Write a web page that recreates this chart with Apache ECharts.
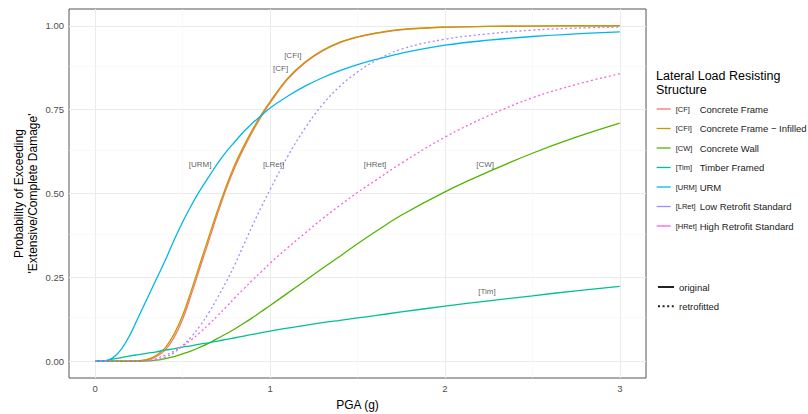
<!DOCTYPE html>
<html>
<head>
<meta charset="utf-8">
<script src="https://cdn.jsdelivr.net/npm/echarts@6/dist/echarts.min.js"></script>
<style>
  html, body { margin: 0; padding: 0; background: #fff; }
  #chart { width: 808px; height: 414px; }
</style>
</head>
<body>
<div id="chart"></div>
<script>
// PGA (g) sample points, shared by every curve
const pga = [0, 0.05, 0.1, 0.15, 0.2, 0.25, 0.3, 0.35, 0.4, 0.45, 0.5, 0.55, 0.6, 0.65, 0.7, 0.75, 0.8, 0.85, 0.9, 0.95, 1.0, 1.1, 1.2, 1.3, 1.4, 1.5, 1.6, 1.75, 2.0, 2.25, 2.5, 2.75, 3.0];

// probability of exceeding
const cf   = [0, 0, 0, 0, 0, 0.001, 0.004, 0.014, 0.033, 0.07, 0.125, 0.2, 0.28, 0.36, 0.44, 0.515, 0.58, 0.635, 0.685, 0.73, 0.77, 0.84, 0.89, 0.925, 0.95, 0.966, 0.977, 0.988, 0.996, 0.998, 0.999, 1, 1];
const cfi  = [0, 0, 0, 0, 0, 0.002, 0.006, 0.018, 0.04, 0.08, 0.137, 0.212, 0.292, 0.372, 0.45, 0.523, 0.588, 0.642, 0.691, 0.735, 0.774, 0.843, 0.892, 0.927, 0.951, 0.967, 0.978, 0.989, 0.996, 0.998, 0.999, 1, 1];
const cw   = [0, 0, 0, 0, 0, 0, 0.001, 0.003, 0.008, 0.014, 0.022, 0.031, 0.042, 0.054, 0.068, 0.082, 0.097, 0.113, 0.13, 0.148, 0.166, 0.203, 0.24, 0.277, 0.313, 0.35, 0.385, 0.435, 0.505, 0.565, 0.62, 0.668, 0.71];
const tim  = [0, 0.001, 0.006, 0.011, 0.016, 0.02, 0.024, 0.028, 0.033, 0.037, 0.042, 0.046, 0.051, 0.055, 0.06, 0.065, 0.07, 0.075, 0.08, 0.085, 0.09, 0.099, 0.107, 0.115, 0.122, 0.129, 0.136, 0.147, 0.164, 0.18, 0.195, 0.21, 0.223];
const urm  = [0, 0, 0.01, 0.036, 0.08, 0.135, 0.19, 0.245, 0.3, 0.36, 0.415, 0.465, 0.51, 0.55, 0.59, 0.625, 0.655, 0.685, 0.71, 0.733, 0.755, 0.79, 0.82, 0.845, 0.866, 0.884, 0.899, 0.918, 0.942, 0.957, 0.968, 0.976, 0.982];
const lret = [0, 0, 0, 0, 0, 0, 0.001, 0.004, 0.012, 0.025, 0.047, 0.073, 0.106, 0.145, 0.19, 0.238, 0.29, 0.348, 0.405, 0.46, 0.512, 0.61, 0.695, 0.765, 0.82, 0.862, 0.895, 0.93, 0.96, 0.976, 0.987, 0.993, 0.996];
const hret = [0, 0, 0, 0, 0, 0, 0.002, 0.008, 0.018, 0.03, 0.045, 0.064, 0.086, 0.11, 0.136, 0.162, 0.19, 0.216, 0.242, 0.267, 0.292, 0.338, 0.382, 0.425, 0.465, 0.503, 0.538, 0.59, 0.668, 0.732, 0.785, 0.825, 0.857];

const codes = ['[CF]', '[CFI]', '[CW]', '[Tim]', '[URM]', '[LRet]', '[HRet]'];
const names = ['Concrete Frame', 'Concrete Frame \u2212 Infilled', 'Concrete Wall', 'Timber Framed', 'URM', 'Low Retrofit Standard', 'High Retrofit Standard'];
const values = [cf, cfi, cw, tim, urm, lret, hret];
const retrofitted = [false, false, false, false, false, true, true];
const colors = ['#F8766D', '#C49A00', '#53B400', '#00C094', '#00B6EB', '#A58AFF', '#FB61D7'];

// direct labels on the curves: [text, pga, probability]
const curveLabels = [
  ['[URM]', 0.60, 0.586], ['[LRet]', 1.02, 0.586], ['[HRet]', 1.60, 0.586], ['[CW]', 2.23, 0.586],
  ['[CF]', 1.06, 0.872], ['[CFI]', 1.13, 0.91], ['[Tim]', 2.24, 0.207]
];

const xTicks = [0, 1, 2, 3];
const xMinor = [0.5, 1.5, 2.5];
const yTicks = [0, 0.25, 0.5, 0.75, 1];
const yMinor = [0.125, 0.375, 0.625, 0.875];

const FONT = 'Liberation Sans, Arial, sans-serif';
let myChart = echarts.init(document.getElementById('chart'), null, { renderer: 'svg' });

let series = [];
// panel grid lines (kept underneath the curves)
series.push({
  type: 'line', data: [], silent: true, z: 1,
  markLine: {
    z: 1, silent: true, symbol: 'none', label: { show: false }, animation: false,
    lineStyle: { color: '#ebebeb', width: 1, type: 'solid' },
    data: xTicks.map(v => ({ xAxis: v })).concat(yTicks.map(v => ({ yAxis: v })))
  }
});
series.push({
  type: 'line', data: [], silent: true, z: 1,
  markLine: {
    z: 1, silent: true, symbol: 'none', label: { show: false }, animation: false,
    lineStyle: { color: '#f5f5f5', width: 0.6, type: 'solid' },
    data: xMinor.map(v => ({ xAxis: v })).concat(yMinor.map(v => ({ yAxis: v })))
  }
});
names.forEach((n, i) => {
  series.push({
    name: n,
    type: 'line',
    z: 3,
    smooth: 0.4,
    symbol: 'none',
    color: colors[i],
    lineStyle: { width: 1.3, color: colors[i], type: retrofitted[i] ? [2, 2.6] : 'solid' },
    data: pga.map((x, k) => [x, values[i][k]])
  });
});
// line-type key
series.push({ name: 'original', type: 'line', data: [], symbol: 'none', color: '#222', lineStyle: { width: 1.3, color: '#222', type: 'solid' } });
series.push({ name: 'retrofitted', type: 'line', data: [], symbol: 'none', color: '#222', lineStyle: { width: 1.3, color: '#222', type: [2, 2.6] } });
// curve labels
series.push({
  type: 'scatter', z: 5, silent: true, symbolSize: 0, color: '#333',
  data: curveLabels.map(d => [d[1], d[2], d[0]]),
  label: { show: true, position: 'inside', formatter: p => p.value[2], fontSize: 8, color: '#333', textBorderWidth: 0, textBorderColor: 'transparent', fontFamily: FONT }
});

const hideSymbol = { opacity: 0, color: 'transparent', borderWidth: 0 };

let option = {
  animation: false,
  title: {
    text: 'Lateral Load Resisting\nStructure',
    left: 651, top: 64,
    textStyle: { fontSize: 12.5, fontWeight: 'normal', color: '#000', fontFamily: FONT, lineHeight: 14 }
  },
  grid: { left: 69, top: 9, right: 162, bottom: 36, outerBoundsMode: 'none', containLabel: false, show: true, borderColor: '#555', borderWidth: 1, backgroundColor: '#fff' },
  legend: [
    {
      data: names, orient: 'vertical', left: 651, top: 99,
      itemWidth: 14, itemHeight: 12, itemGap: 9.5,
      lineStyle: { type: 'solid', width: 1.3 },
      itemStyle: hideSymbol,
      selectedMode: false,
      formatter: name => '{a|' + codes[names.indexOf(name)] + '}{b|' + name + '}',
      textStyle: {
        fontFamily: FONT, color: '#1a1a1a',
        rich: {
          a: { fontSize: 7.5, width: 24, color: '#1a1a1a', fontFamily: FONT, lineHeight: 12 },
          b: { fontSize: 9.5, color: '#1a1a1a', fontFamily: FONT, lineHeight: 12 }
        }
      }
    },
    {
      data: ['original', 'retrofitted'], orient: 'vertical', left: 652, top: 277,
      itemWidth: 16, itemHeight: 12, itemGap: 9.3,
      itemStyle: hideSymbol,
      selectedMode: false,
      textStyle: { fontFamily: FONT, fontSize: 9.5, color: '#1a1a1a' }
    }
  ],
  xAxis: {
    type: 'value', min: -0.15, max: 3.15,
    name: 'PGA (g)', nameLocation: 'middle', nameGap: 21, nameMoveOverlap: false,
    nameTextStyle: { fontSize: 12, color: '#000', fontFamily: FONT },
    axisLine: { show: false },
    axisTick: { show: true, length: 3, customValues: xTicks, lineStyle: { color: '#333' } },
    axisLabel: { customValues: xTicks, fontSize: 9.5, color: '#4d4d4d', fontFamily: FONT, margin: 5 },
    splitLine: { show: false }
  },
  yAxis: {
    type: 'value', min: -0.05, max: 1.05,
    name: 'Probability of Exceeding\n\'Extensive/Complete Damage\'', nameLocation: 'middle', nameGap: 29, nameRotate: 90, nameMoveOverlap: false,
    nameTextStyle: { fontSize: 12, color: '#000', fontFamily: FONT, lineHeight: 14 },
    axisLine: { show: false },
    axisTick: { show: true, length: 3, customValues: yTicks, lineStyle: { color: '#333' } },
    axisLabel: { customValues: yTicks, formatter: v => v.toFixed(2), fontSize: 9.5, color: '#4d4d4d', fontFamily: FONT, margin: 5 },
    splitLine: { show: false }
  },
  series: series
};
myChart.setOption(option);
</script>
</body>
</html>
